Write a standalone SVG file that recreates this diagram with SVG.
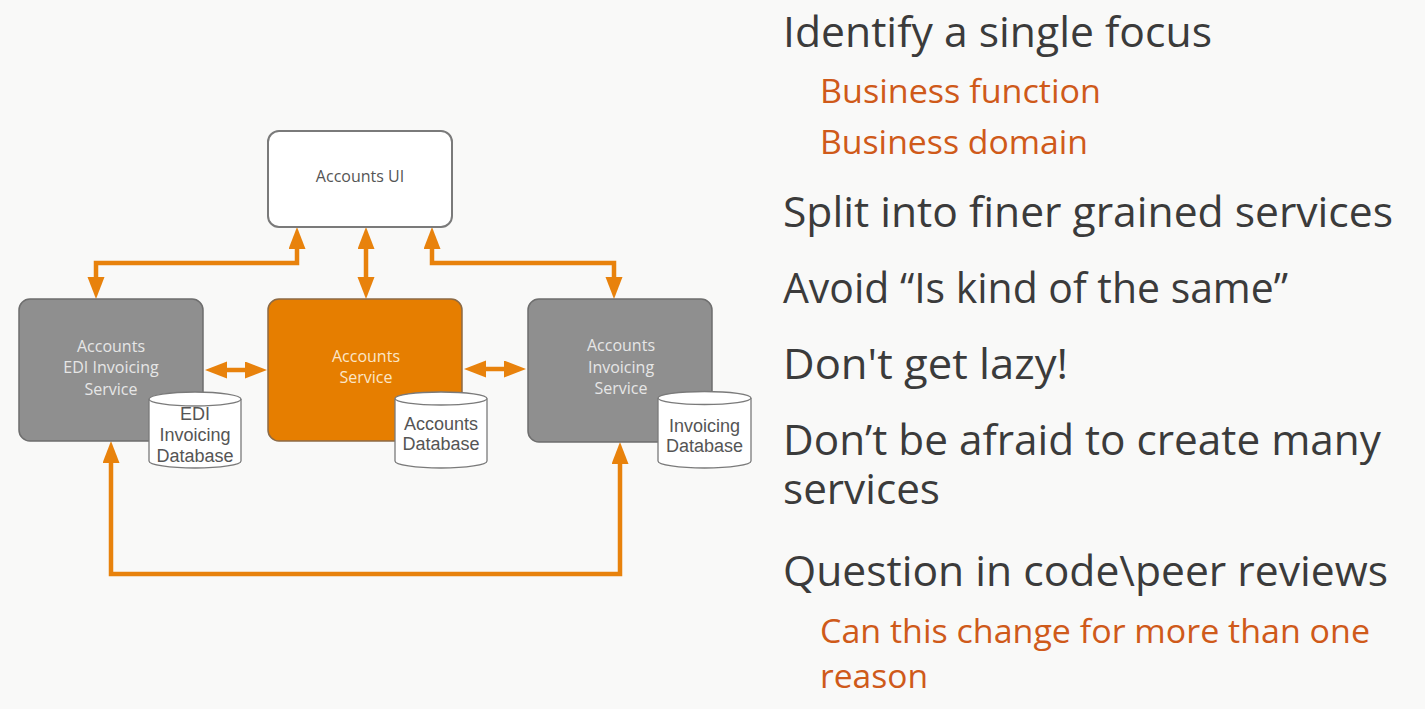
<svg xmlns="http://www.w3.org/2000/svg" width="1425" height="709" viewBox="0 0 1425 709">
  <style>
    .bg { fill: #f9f9f8; }
    .box-ui { fill: #ffffff; stroke: #7a7a7a; stroke-width: 2; }
    .box-gray { fill: #8f8f8f; stroke: #6e6e6e; stroke-width: 1.5; }
    .box-orange { fill: #e67e00; stroke: #8c6a45; stroke-width: 1.5; }
    .lbl { font-family: "Open Sans", "Noto Sans", sans-serif; font-size: 16px; text-anchor: middle; }
    .lbl-ui { fill: #555555; }
    .lbl-gray { fill: #e6e6e6; }
    .lbl-orange { fill: #fbe6c8; }
    .db { fill: #ffffff; stroke: #7a7a7a; stroke-width: 1.3; }
    .dbt { font-family: "Liberation Sans", Arial, sans-serif; font-size: 18px; fill: #555555; text-anchor: middle; }
    .conn { fill: none; stroke: #e8820c; stroke-width: 4.5; stroke-linejoin: miter; marker-start: url(#ah); marker-end: url(#ah); }
    .h1 { font-family: "Open Sans", "Noto Sans", sans-serif; font-size: 42px; fill: #3b3b3b; }
    .h2 { font-family: "Open Sans", "Noto Sans", sans-serif; font-size: 33px; fill: #cf5a1a; }
  </style>
  <defs>
    <marker id="ah" markerUnits="userSpaceOnUse" markerWidth="23" markerHeight="18" refX="0" refY="8.5" orient="auto-start-reverse">
      <path d="M0,0 L22,8.5 L0,17 z" fill="#e8820c"/>
    </marker>
  </defs>
  <rect class="bg" x="0" y="0" width="1425" height="709"/>

  <g id="connectors">
    <path class="conn" d="M297,249 V263 H96 V277"/>
    <path class="conn" d="M366,249 V277"/>
    <path class="conn" d="M432,249 V263 H614 V277"/>
    <path class="conn" d="M227,370 H245"/>
    <path class="conn" d="M486,369 H504"/>
    <path class="conn" d="M111,463 V574 H620 V464"/>
  </g>

  <g id="accounts-ui">
    <rect class="box-ui" x="268" y="131" width="184" height="96" rx="11"/>
    <text class="lbl lbl-ui" x="360" y="182">Accounts UI</text>
  </g>

  <g id="edi-service">
    <rect class="box-gray" x="19" y="299" width="184" height="142" rx="11"/>
    <text class="lbl lbl-gray" x="111" y="352">Accounts</text>
    <text class="lbl lbl-gray" x="111" y="373">EDI Invoicing</text>
    <text class="lbl lbl-gray" x="111" y="395">Service</text>
  </g>

  <g id="accounts-service">
    <rect class="box-orange" x="268" y="299" width="194" height="142" rx="11"/>
    <text class="lbl lbl-orange" x="366" y="362">Accounts</text>
    <text class="lbl lbl-orange" x="366" y="383">Service</text>
  </g>

  <g id="invoicing-service">
    <rect class="box-gray" x="528" y="299" width="184" height="143" rx="11"/>
    <text class="lbl lbl-gray" x="621" y="351">Accounts</text>
    <text class="lbl lbl-gray" x="621" y="373">Invoicing</text>
    <text class="lbl lbl-gray" x="621" y="394">Service</text>
  </g>

  <g id="edi-db">
    <path class="db" d="M149,399 V461 A46,7 0 0 0 241,461 V399"/>
    <ellipse class="db" cx="195" cy="399" rx="46" ry="7"/>
    <text class="dbt" x="195" y="420">EDI</text>
    <text class="dbt" x="195" y="441">Invoicing</text>
    <text class="dbt" x="195" y="462">Database</text>
  </g>

  <g id="accounts-db">
    <path class="db" d="M395,398.5 V461 A46,7 0 0 0 487,461 V398.5"/>
    <ellipse class="db" cx="441" cy="398.5" rx="46" ry="6.5"/>
    <text class="dbt" x="441" y="430">Accounts</text>
    <text class="dbt" x="441" y="450">Database</text>
  </g>

  <g id="invoicing-db">
    <path class="db" d="M658,398 V461 A46.5,7 0 0 0 751,461 V398"/>
    <ellipse class="db" cx="704.5" cy="398" rx="46.5" ry="6.5"/>
    <text class="dbt" x="704.5" y="432">Invoicing</text>
    <text class="dbt" x="704.5" y="452">Database</text>
  </g>

  <g id="bullets">
    <text class="h1" x="783" y="47" textLength="429" lengthAdjust="spacingAndGlyphs">Identify a single focus</text>
    <text class="h2" x="820" y="103" textLength="281" lengthAdjust="spacingAndGlyphs">Business function</text>
    <text class="h2" x="820" y="154" textLength="268" lengthAdjust="spacingAndGlyphs">Business domain</text>
    <text class="h1" x="783" y="227" textLength="610" lengthAdjust="spacingAndGlyphs">Split into finer grained services</text>
    <text class="h1" x="783" y="303" textLength="505" lengthAdjust="spacingAndGlyphs">Avoid “Is kind of the same”</text>
    <text class="h1" x="783" y="379" textLength="285" lengthAdjust="spacingAndGlyphs">Don't get lazy!</text>
    <text class="h1"><tspan x="783" y="455" textLength="598" lengthAdjust="spacingAndGlyphs">Don’t be afraid to create many</tspan><tspan x="783" y="504" textLength="157" lengthAdjust="spacingAndGlyphs">services</tspan></text>
    <text class="h1" x="783" y="586" textLength="605" lengthAdjust="spacingAndGlyphs">Question in code\peer reviews</text>
    <text class="h2"><tspan x="820" y="643" textLength="550" lengthAdjust="spacingAndGlyphs">Can this change for more than one</tspan><tspan x="820" y="688" textLength="108" lengthAdjust="spacingAndGlyphs">reason</tspan></text>
  </g>
</svg>
